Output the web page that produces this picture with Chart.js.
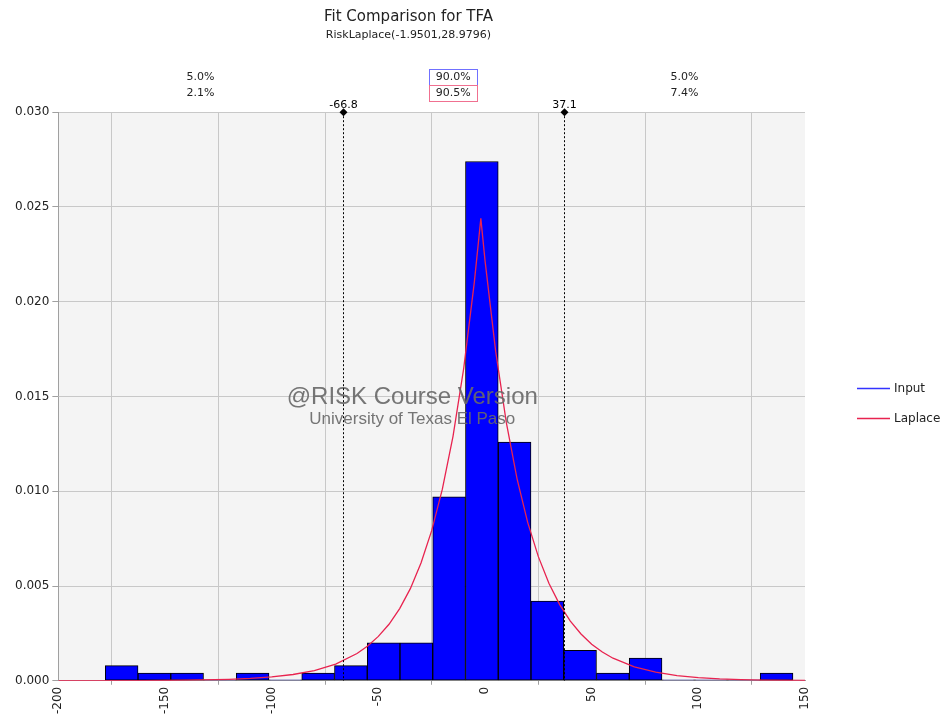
<!DOCTYPE html>
<html>
<head>
<meta charset="utf-8">
<title>Fit Comparison for TFA</title>
<script src="https://cdn.jsdelivr.net/npm/chart.js@4"></script>
<style>
    html, body { margin: 0; padding: 0; background: #fff; }
    #wrap { width: 951px; height: 721px; }
</style>
</head>
<body>
<div id="wrap"><canvas id="fitChart"></canvas></div>
<script>
// Histogram of the input (bin centres, density)
const binCenters = [-170.33, -154.98, -139.63, -124.28, -108.93, -93.58, -78.23, -62.88, -47.53, -32.18,
    -16.83, -1.48, 13.88, 29.23, 44.58, 59.93, 75.28, 90.63, 105.98, 121.33, 136.68];
const inputDensity = [0.0008, 0.0004, 0.0004, 0, 0.0004, 0, 0.0004, 0.0008, 0.0020, 0.0020,
    0.0097, 0.0274, 0.0126, 0.0042, 0.0016, 0.0004, 0.0012, 0, 0, 0, 0.0004];

// Laplace fit curve
const fitX = [-200, -180, -160, -140, -120, -110, -100, -90, -80, -70, -60, -55, -50, -45, -40, -35, -30, -25, -20, -15,
    -10, -5, -1.95, 0, 5, 10, 15, 20, 25, 30, 35, 40, 45, 50, 55, 60, 70, 80, 90, 100, 110, 120, 130, 150];
const fitY = [0.0000015, 0.000004, 0.000011, 0.000029, 0.000077, 0.000125, 0.00020, 0.00033, 0.00054, 0.00088,
    0.00144, 0.00183, 0.00234, 0.00298, 0.00381, 0.00486, 0.00621, 0.00792, 0.01011, 0.01290,
    0.01647, 0.02103, 0.0244, 0.02218, 0.01738, 0.01362, 0.01067, 0.00836, 0.00655, 0.00513,
    0.00402, 0.00315, 0.00247, 0.00193, 0.00152, 0.00119, 0.00073, 0.00045, 0.00027, 0.00017,
    0.000103, 0.000063, 0.000039, 0.000015];

const xTicks = [-200, -150, -100, -50, 0, 50, 100, 150];
const yTicks = [0, 0.005, 0.010, 0.015, 0.020, 0.025, 0.030];

// delimiters and the percentages above the plot (row 1 = Input, row 2 = Laplace)
const markers = [-66.8, 37.1];
const leftTail = ['5.0%', '2.1%'];
const midBand = ['90.0%', '90.5%'];
const rightTail = ['5.0%', '7.4%'];

const FONT = '"DejaVu Sans", "Liberation Sans", sans-serif';
const BLUE = '#0000ff';
const RED = '#e8234f';

// grey plot background
const plotBackground = {
    id: 'plotBackground',
    beforeDraw(chart) {
        const { ctx, chartArea: a } = chart;
        ctx.save();
        ctx.fillStyle = '#f4f4f4';
        ctx.fillRect(a.left, a.top, a.right - a.left, a.bottom - a.top);
        ctx.restore();
    }
};

// watermark text over the bars
const watermark = {
    id: 'watermark',
    afterDatasetsDraw(chart) {
        const { ctx, chartArea: a } = chart;
        const cx = a.left + (a.right - a.left) * 0.474;
        const h = a.bottom - a.top;
        ctx.save();
        ctx.fillStyle = 'rgba(105, 105, 105, 0.92)';
        ctx.textAlign = 'center';
        ctx.textBaseline = 'middle';
        ctx.font = '24px "Liberation Sans", Arial, sans-serif';
        ctx.fillText('@RISK Course Version', cx, a.top + h * 0.502);
        ctx.font = '17px "Liberation Sans", Arial, sans-serif';
        ctx.fillText('University of Texas El Paso', cx, a.top + h * 0.54);
        ctx.restore();
    }
};

// dashed delimiter lines, diamonds, and percentage labels
const delimiters = {
    id: 'delimiters',
    afterDatasetsDraw(chart) {
        const { ctx, chartArea: a, scales: { x } } = chart;
        ctx.save();
        ctx.strokeStyle = '#000';
        ctx.lineWidth = 1;
        ctx.setLineDash([2, 2]);
        const px = markers.map(v => Math.round(x.getPixelForValue(v)) + 0.5);
        px.forEach(p => {
            ctx.beginPath();
            ctx.moveTo(p, a.top);
            ctx.lineTo(p, a.bottom);
            ctx.stroke();
        });
        ctx.setLineDash([]);
        ctx.fillStyle = '#000';
        ctx.font = '11px ' + FONT;
        ctx.textAlign = 'center';
        ctx.textBaseline = 'bottom';
        px.forEach((p, i) => {
            ctx.beginPath();
            ctx.moveTo(p, a.top - 4);
            ctx.lineTo(p + 4, a.top);
            ctx.lineTo(p, a.top + 4);
            ctx.lineTo(p - 4, a.top);
            ctx.closePath();
            ctx.fill();
            ctx.fillText(markers[i].toFixed(1), p, a.top - 2);
        });

        const xl = x.getPixelForValue((x.min + markers[0]) / 2);
        const xm = x.getPixelForValue((markers[0] + markers[1]) / 2);
        const xr = x.getPixelForValue((markers[1] + x.max) / 2);
        const rows = [a.top - 35, a.top - 19];
        ctx.textBaseline = 'middle';
        ctx.fillStyle = '#222';
        rows.forEach((ry, i) => {
            ctx.fillText(leftTail[i], xl, ry);
            ctx.fillText(rightTail[i], xr, ry);
            ctx.fillText(midBand[i], xm, ry);
        });
        // boxes around the middle band
        const boxColors = ['#7070ff', '#f07090'];
        rows.forEach((ry, i) => {
            ctx.strokeStyle = boxColors[i];
            ctx.strokeRect(Math.round(xm - 24) + 0.5, Math.round(ry - 8) + 0.5, 48, 16);
        });
        ctx.restore();
    }
};

// legend to the right of the plot
const sideLegend = {
    id: 'sideLegend',
    afterDraw(chart) {
        const { ctx, chartArea: a } = chart;
        const colors = ['#3333ff', RED];
        const x0 = a.right + 52;
        const mid = (a.top + a.bottom) / 2;
        ctx.save();
        ctx.font = '12px ' + FONT;
        ctx.textBaseline = 'middle';
        ctx.fillStyle = '#222';
        chart.data.datasets.forEach((ds, i) => {
            const y = Math.round(mid - 8 + i * 30) + 0.5;
            ctx.strokeStyle = colors[i];
            ctx.lineWidth = 1.5;
            ctx.beginPath();
            ctx.moveTo(x0, y);
            ctx.lineTo(x0 + 33, y);
            ctx.stroke();
            ctx.fillText(ds.label, x0 + 37, y);
        });
        ctx.restore();
    }
};

const ctx = document.getElementById('fitChart').getContext('2d');
new Chart(ctx, {
    data: {
        datasets: [{
            type: 'bar',
            label: 'Input',
            data: binCenters.map((c, i) => ({ x: c, y: inputDensity[i] })),
            backgroundColor: BLUE,
            borderColor: '#000',
            borderWidth: 1,
            borderSkipped: false,
            minBarLength: 1,
            barPercentage: 1,
            categoryPercentage: 1,
            order: 1
        }, {
            type: 'line',
            label: 'Laplace',
            data: fitX.map((v, i) => ({ x: v, y: fitY[i] })),
            borderColor: RED,
            borderWidth: 1.3,
            pointRadius: 0,
            tension: 0,
            fill: false,
            order: 0
        }]
    },
    options: {
        responsive: true,
        maintainAspectRatio: false,
        animation: false,
        layout: {
            padding: { left: 12, right: 146, top: 0, bottom: 5 }
        },
        plugins: {
            legend: { display: false },
            tooltip: { enabled: false },
            title: {
                display: true,
                text: 'Fit Comparison for TFA',
                color: '#222',
                font: { family: FONT, size: 15, weight: 'normal' },
                padding: { top: 8, bottom: 3 }
            },
            subtitle: {
                display: true,
                text: 'RiskLaplace(-1.9501,28.9796)',
                color: '#222',
                font: { family: FONT, size: 11 },
                padding: { top: 0, bottom: 70 }
            }
        },
        scales: {
            x: {
                type: 'linear',
                min: -200,
                max: 150,
                offset: false,
                afterBuildTicks: axis => { axis.ticks = xTicks.map(v => ({ value: v })); },
                ticks: {
                    color: '#222',
                    font: { family: FONT, size: 12 },
                    minRotation: 90,
                    maxRotation: 90,
                    padding: 2
                },
                grid: { color: '#c8c8c8', tickLength: 4, tickColor: '#a0a0a0' },
                border: { color: '#a0a0a0' }
            },
            y: {
                min: 0,
                max: 0.03,
                afterBuildTicks: axis => { axis.ticks = yTicks.map(v => ({ value: v })); },
                ticks: {
                    color: '#222',
                    font: { family: FONT, size: 12 },
                    padding: 3,
                    callback: v => v.toFixed(3)
                },
                grid: { color: '#c8c8c8', tickLength: 6, tickColor: '#a0a0a0' },
                border: { color: '#a0a0a0' }
            }
        }
    },
    plugins: [plotBackground, watermark, delimiters, sideLegend]
});
</script>
</body>
</html>
